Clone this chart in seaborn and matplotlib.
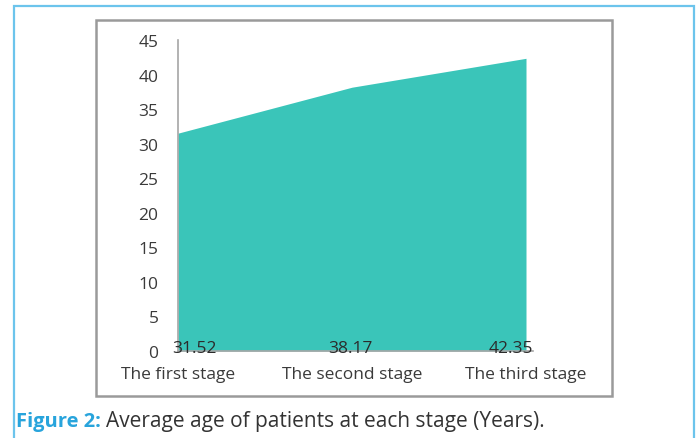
import matplotlib
matplotlib.use("Agg")
import matplotlib.pyplot as plt
from matplotlib.patches import Rectangle
import seaborn as sns
import pandas as pd

stages = ["The first stage", "The second stage", "The third stage"]
mean_age = [31.52, 38.17, 42.35]
y_ticks = [0, 5, 10, 15, 20, 25, 30, 35, 40, 45]

sns.set_theme(style="white")
plt.rcParams["font.family"] = ["Open Sans", "DejaVu Sans"]

W, H = 699, 439
fig = plt.figure(figsize=(W / 100, H / 100), dpi=100)

def fx(px):
    return px / W

def fy(py):
    return 1 - py / H

# outer frame (light blue) and inner chart frame (grey)
fig.patches.append(Rectangle((fx(14), fy(445)), fx(694) - fx(14), fy(7) - fy(445),
                             transform=fig.transFigure, fill=False,
                             edgecolor="#6cc4ec", linewidth=1.6))
fig.patches.append(Rectangle((fx(96), fy(397)), fx(612) - fx(96), fy(21) - fy(397),
                             transform=fig.transFigure, fill=False,
                             edgecolor="#9a9a9a", linewidth=1.8))

ax_left, ax_right, ax_top, ax_bottom = 178, 533, 41, 352
ax = fig.add_axes([fx(ax_left), fy(ax_bottom), fx(ax_right) - fx(ax_left),
                   fy(ax_top) - fy(ax_bottom)])
ax.set_facecolor("none")

df = pd.DataFrame({"pos": range(len(stages)), "stage": stages, "age": mean_age})
sns.lineplot(data=df, x="pos", y="age", ax=ax, color="#3ac5b9", linewidth=0)
ax.fill_between(df["pos"], 0, df["age"], color="#3ac5b9", linewidth=0)

ax.set_xlim(0, 2 * (ax_right - ax_left) / (526 - ax_left))
ax.set_ylim(0, 45)
ax.set_yticks(y_ticks)
ax.set_yticklabels([str(t) for t in y_ticks], fontsize=12.5, color="#3a3a3a")
ax.set_xticks(df["pos"])
ax.set_xticklabels(stages, fontsize=12.5, color="#3a3a3a")
ax.tick_params(axis="y", length=0, pad=14)
ax.tick_params(axis="x", length=0, pad=11)
ax.set_xlabel("")
ax.set_ylabel("")

for side in ["top", "right"]:
    ax.spines[side].set_visible(False)
for side in ["left", "bottom"]:
    ax.spines[side].set_color("#a6a6a6")
    ax.spines[side].set_linewidth(1.2)

# value labels sitting at the base of the area
aligns = [("left", -6), ("center", -2), ("right", 7)]
for i, v in enumerate(mean_age):
    ha, dx = aligns[i]
    ax.annotate(f"{v:.2f}", xy=(i, 0), xytext=(dx, 3), textcoords="offset pixels",
                ha=ha, va="center", fontsize=12.5, color="#2b2b2b")

# caption
fig.text(fx(16), fy(422), "Figure 2:", fontsize=14.5, fontweight="bold",
         color="#28a4dc", ha="left", va="center")
fig.text(fx(106), fy(422), "Average age of patients at each stage (Years).",
         fontsize=15, color="#333333", ha="left", va="center")

fig.savefig("out.png", dpi=100)
